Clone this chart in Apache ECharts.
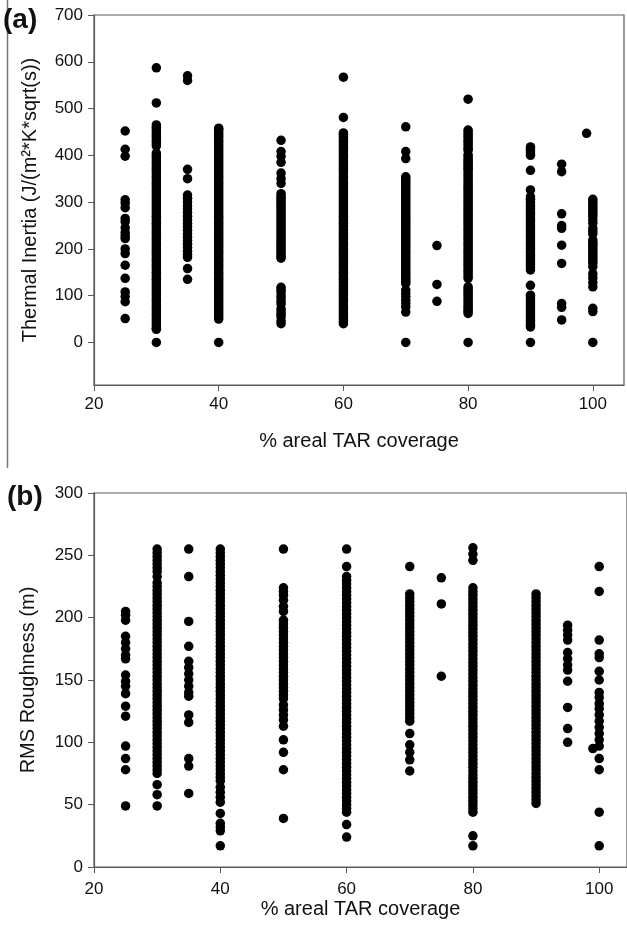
<!DOCTYPE html>
<html>
<head>
<meta charset="utf-8">
<script src="https://cdn.jsdelivr.net/npm/echarts@6/dist/echarts.min.js"></script>
<style>
html,body{margin:0;padding:0;background:#fff;}
#chart{width:627px;height:930px;}
</style>
</head>
<body>
<div id="chart"></div>
<script>
// x tick labels
var xTicks = [20, 40, 60, 80, 100];
var tiTicks = [0, 100, 200, 300, 400, 500, 600, 700];

// (a) Thermal inertia per % areal TAR coverage
var ti25 = [452, 413, 398, 305, 298, 288, 265, 258, 245, 235, 228, 222, 200, 190, 165, 137, 108, 98, 87, 51];
var ti30 = [587, 512, 465, 460, 455, 450, 445, 440, 435, 430, 425, 420, 405, 400, 395, 390, 385, 380, 375, 370, 365, 360, 355, 350, 345, 340, 335, 330, 325, 320, 315, 310, 305, 300, 295, 290, 285, 280, 275, 270, 265, 260, 255, 250, 245, 240, 235, 230, 225, 220, 215, 210, 205, 200, 195, 190, 185, 180, 175, 170, 165, 160, 155, 150, 145, 140, 135, 130, 125, 120, 115, 110, 105, 100, 95, 90, 85, 80, 75, 70, 65, 60, 55, 50, 45, 40, 35, 30, 28, 0];
var ti35 = [570, 560, 370, 350, 315, 308, 300, 292, 285, 278, 270, 262, 255, 248, 240, 232, 225, 218, 210, 203, 195, 188, 182, 158, 135];
var ti40 = [458, 455, 450, 445, 440, 435, 430, 425, 420, 415, 410, 405, 400, 395, 390, 385, 380, 375, 370, 365, 360, 355, 350, 345, 340, 335, 330, 325, 320, 315, 310, 305, 300, 295, 290, 285, 280, 275, 270, 265, 260, 255, 250, 245, 240, 235, 230, 225, 220, 215, 210, 205, 200, 195, 190, 185, 180, 175, 170, 165, 160, 155, 150, 145, 140, 135, 130, 125, 120, 115, 110, 105, 100, 95, 90, 85, 80, 75, 70, 65, 60, 55, 50, 0];
var ti50 = [432, 408, 398, 385, 362, 350, 340, 318, 313, 308, 303, 298, 293, 288, 283, 278, 273, 268, 263, 258, 253, 248, 243, 238, 233, 228, 223, 218, 213, 208, 203, 198, 193, 188, 183, 180, 118, 113, 108, 100, 95, 88, 82, 72, 66, 60, 55, 46, 40];
var ti60 = [567, 481, 448, 445, 440, 435, 430, 425, 420, 415, 410, 405, 400, 395, 390, 385, 380, 375, 370, 365, 360, 355, 350, 345, 340, 335, 330, 325, 320, 315, 310, 305, 300, 295, 290, 285, 280, 275, 270, 265, 260, 255, 250, 245, 240, 235, 230, 225, 220, 215, 210, 205, 200, 195, 190, 185, 180, 175, 170, 165, 160, 155, 150, 145, 140, 135, 130, 125, 120, 115, 110, 105, 100, 95, 90, 85, 80, 75, 70, 65, 60, 55, 50, 45, 40];
var ti70 = [461, 408, 393, 354, 350, 345, 340, 335, 330, 325, 320, 315, 310, 305, 300, 295, 290, 285, 280, 275, 270, 265, 260, 255, 250, 245, 240, 235, 230, 225, 220, 215, 210, 205, 200, 195, 190, 185, 180, 175, 170, 165, 160, 155, 150, 145, 140, 135, 130, 126, 112, 105, 98, 90, 83, 76, 65, 0];
var ti75 = [207, 124, 88];
var ti80 = [520, 454, 450, 445, 440, 435, 430, 425, 420, 415, 411, 401, 397, 392, 388, 384, 380, 376, 372, 368, 362, 357, 352, 347, 342, 337, 332, 327, 322, 317, 312, 307, 302, 297, 292, 287, 282, 277, 272, 267, 262, 257, 252, 247, 242, 237, 232, 227, 222, 217, 212, 207, 202, 197, 192, 187, 182, 177, 172, 167, 162, 157, 152, 147, 142, 137, 119, 114, 110, 105, 100, 95, 90, 85, 80, 75, 70, 66, 62, 0];
var ti90 = [418, 414, 410, 405, 400, 368, 326, 311, 306, 301, 296, 291, 286, 281, 276, 271, 266, 261, 256, 251, 246, 241, 236, 231, 226, 221, 216, 211, 206, 201, 196, 191, 186, 181, 176, 171, 166, 161, 155, 122, 101, 97, 92, 87, 82, 77, 72, 67, 62, 57, 52, 47, 42, 37, 33, 0];
var ti95 = [381, 365, 275, 250, 244, 208, 169, 83, 75, 48];
var ti99 = [447];
var ti100 = [306, 301, 296, 290, 285, 280, 275, 270, 262, 255, 244, 238, 232, 219, 214, 210, 205, 200, 195, 190, 185, 180, 175, 170, 162, 147, 138, 128, 119, 73, 66, 0];

// (b) RMS roughness per % areal TAR coverage
var rr25 = [205, 202, 198, 185, 180, 175, 170, 167, 154, 149, 145, 139, 129, 121, 97, 87, 78, 49];
var rr30 = [255, 252, 249, 246, 243, 240, 237, 233, 228, 225, 222, 219, 216, 213, 210, 207, 204, 201, 198, 195, 192, 189, 186, 183, 180, 177, 174, 171, 168, 165, 162, 159, 156, 153, 150, 147, 144, 141, 138, 135, 132, 129, 126, 123, 120, 117, 114, 111, 108, 105, 102, 99, 96, 93, 90, 87, 84, 81, 78, 75, 66, 58, 49];
var rr35 = [255, 233, 197, 177, 165, 160, 155, 150, 145, 140, 137, 122, 116, 87, 81, 59];
var rr40 = [255, 252, 249, 246, 243, 240, 237, 234, 231, 228, 225, 222, 219, 216, 213, 210, 207, 204, 201, 198, 195, 192, 189, 186, 183, 180, 177, 174, 171, 168, 165, 162, 159, 156, 153, 150, 147, 144, 141, 138, 135, 132, 129, 126, 123, 120, 117, 114, 111, 108, 105, 102, 99, 96, 93, 90, 87, 84, 81, 78, 75, 72, 69, 64, 60, 56, 52, 43, 35, 32, 29, 17];
var rr50 = [255, 224, 221, 218, 214, 209, 205, 198, 195, 192, 189, 186, 183, 180, 177, 174, 171, 168, 165, 162, 159, 156, 153, 150, 147, 144, 141, 138, 135, 130, 126, 122, 118, 113, 102, 92, 78, 39];
var rr60 = [255, 241, 233, 230, 227, 224, 221, 218, 215, 212, 209, 206, 203, 200, 197, 194, 191, 188, 185, 182, 179, 176, 173, 170, 167, 164, 161, 158, 155, 152, 149, 146, 143, 140, 137, 134, 131, 128, 125, 122, 119, 116, 113, 110, 107, 104, 101, 98, 95, 92, 89, 86, 83, 80, 77, 74, 71, 68, 65, 62, 59, 56, 53, 50, 47, 44, 34, 24];
var rr70 = [241, 219, 216, 213, 210, 207, 204, 201, 198, 195, 192, 189, 186, 183, 180, 177, 174, 171, 168, 165, 162, 159, 156, 153, 150, 147, 144, 141, 138, 135, 132, 129, 126, 123, 120, 117, 107, 98, 92, 86, 77];
var rr75 = [232, 211, 153];
var rr80 = [256, 251, 246, 224, 221, 218, 215, 212, 209, 206, 203, 200, 197, 194, 191, 188, 185, 182, 179, 176, 173, 170, 167, 164, 161, 158, 155, 152, 149, 146, 143, 140, 137, 134, 131, 128, 125, 122, 119, 116, 113, 110, 107, 104, 101, 98, 95, 92, 89, 86, 83, 80, 77, 74, 71, 68, 65, 62, 59, 56, 53, 50, 47, 44, 25, 17];
var rr90 = [219, 216, 213, 210, 207, 204, 201, 198, 195, 192, 189, 186, 183, 180, 177, 174, 171, 168, 165, 162, 159, 156, 153, 150, 147, 144, 141, 138, 135, 132, 129, 126, 123, 120, 117, 114, 111, 108, 105, 102, 99, 96, 93, 90, 87, 84, 81, 78, 75, 72, 69, 66, 63, 60, 57, 54, 51];
var rr95 = [194, 190, 186, 182, 172, 167, 162, 158, 149, 128, 111, 100];
var rr99 = [95];
var rr100 = [241, 221, 182, 171, 168, 157, 150, 140, 136, 131, 127, 122, 117, 112, 107, 102, 97, 87, 78, 44, 17];

var coverage = [25, 30, 35, 40, 50, 60, 70, 75, 80, 90, 95, 99, 100];
var tiCols = [ti25, ti30, ti35, ti40, ti50, ti60, ti70, ti75, ti80, ti90, ti95, ti99, ti100];
var rrCols = [rr25, rr30, rr35, rr40, rr50, rr60, rr70, rr75, rr80, rr90, rr95, rr99, rr100];

function build(cols) {
  var out = [];
  cols.forEach(function (arr, i) {
    arr.forEach(function (v) { out.push([coverage[i], v]); });
  });
  return out;
}

var FONT = '"Liberation Sans", Arial, sans-serif';
var axisCol = '#5a5a5a';
var txtCol = '#111111';

function xAxisDef(gridIndex, max, gap, margin) {
  return {
    type: 'value', gridIndex: gridIndex, min: 20, max: max,
    name: '% areal TAR coverage', nameLocation: 'middle', nameGap: gap,
    nameTextStyle: { fontFamily: FONT, fontSize: 20, color: txtCol },
    axisLine: { show: true, onZero: false, lineStyle: { color: axisCol, width: 1.2 } },
    axisTick: { show: true, inside: false, length: 6, customValues: xTicks, lineStyle: { color: axisCol } },
    axisLabel: { customValues: xTicks, margin: margin, fontFamily: FONT, fontSize: 17, color: txtCol },
    splitLine: { show: false }
  };
}

var option = {
  animation: false,
  backgroundColor: '#ffffff',
  grid: [
    { left: 94, top: 15, width: 530, height: 370, show: true, borderColor: axisCol, borderWidth: 1.2, backgroundColor: 'transparent' },
    { left: 94, top: 493, width: 534, height: 374, show: true, borderColor: axisCol, borderWidth: 1.2, backgroundColor: 'transparent' }
  ],
  xAxis: [
    xAxisDef(0, 105, 46, 11),
    xAxisDef(1, 104.4, 32, 14)
  ],
  yAxis: [
    {
      type: 'value', gridIndex: 0, min: -91, max: 700,
      name: 'Thermal Inertia (J/(m²*K*sqrt(s))', nameLocation: 'middle', nameGap: 54,
      nameTextStyle: { fontFamily: FONT, fontSize: 20, color: txtCol },
      axisLine: { show: true, onZero: false, lineStyle: { color: axisCol, width: 1.2 } },
      axisTick: { show: true, inside: false, length: 6, customValues: tiTicks, lineStyle: { color: axisCol } },
      axisLabel: { customValues: tiTicks, margin: 11, fontFamily: FONT, fontSize: 17, color: txtCol },
      splitLine: { show: false }
    },
    {
      type: 'value', gridIndex: 1, min: 0, max: 300, interval: 50,
      name: 'RMS Roughness (m)', nameLocation: 'middle', nameGap: 56,
      nameTextStyle: { fontFamily: FONT, fontSize: 20, color: txtCol },
      axisLine: { show: true, onZero: false, lineStyle: { color: axisCol, width: 1.2 } },
      axisTick: { show: true, inside: false, length: 6, lineStyle: { color: axisCol } },
      axisLabel: { margin: 11, fontFamily: FONT, fontSize: 17, color: txtCol },
      splitLine: { show: false }
    }
  ],
  series: [
    {
      type: 'scatter', xAxisIndex: 0, yAxisIndex: 0,
      symbol: 'circle', symbolSize: 9.5,
      itemStyle: { color: '#000000', opacity: 1 },
      data: build(tiCols)
    },
    {
      type: 'scatter', xAxisIndex: 1, yAxisIndex: 1,
      symbol: 'circle', symbolSize: 9.5,
      itemStyle: { color: '#000000', opacity: 1 },
      data: build(rrCols)
    }
  ],
  graphic: [
    { type: 'line', shape: { x1: 7.5, y1: 0, x2: 7.5, y2: 468 }, style: { stroke: '#777', lineWidth: 1.5 } },
    { type: 'text', left: 3, top: 6, style: { text: '(a)', font: 'bold 28px ' + FONT, fill: '#111' } },
    { type: 'text', left: 7, top: 483, style: { text: '(b)', font: 'bold 28px ' + FONT, fill: '#111' } }
  ]
};

var chart = echarts.init(document.getElementById('chart'), null, { renderer: 'canvas' });
chart.setOption(option);
</script>
</body>
</html>
